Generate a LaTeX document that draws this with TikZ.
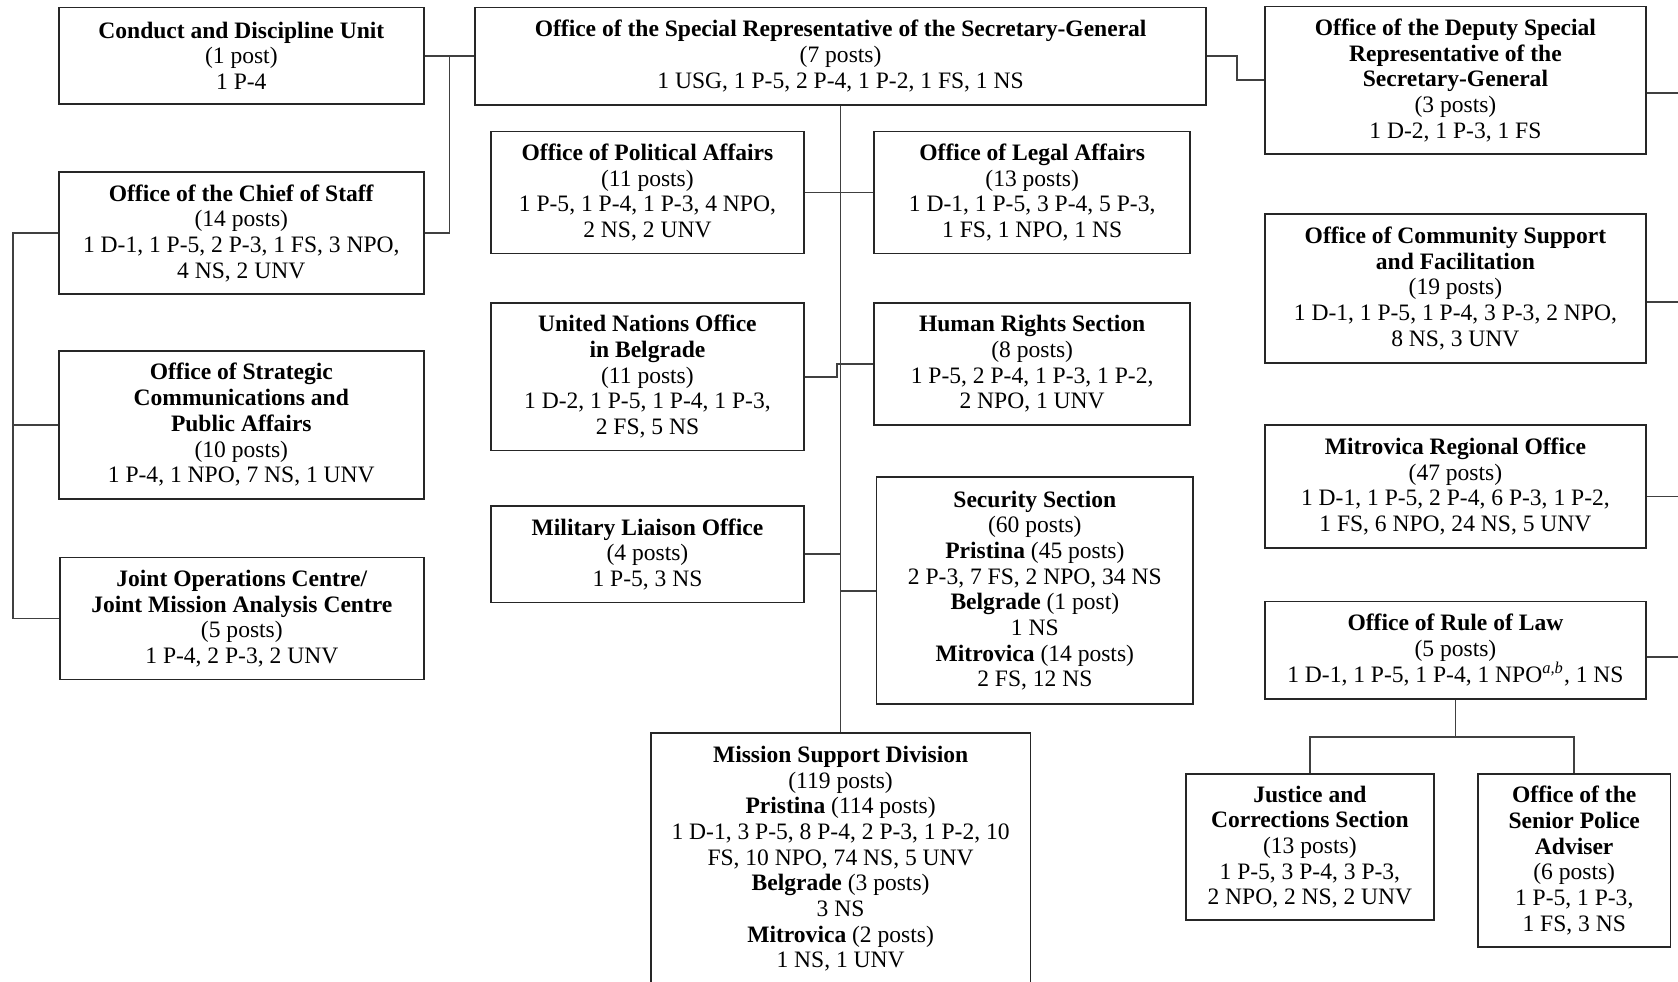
\documentclass[tikz,border=0pt]{standalone}
\usepackage{fontspec}
\setmainfont{Liberation Serif}
\begin{document}
\begin{tikzpicture}[x=0.5pt,y=-0.5pt,
  box/.style={draw=black!85, line width=0.8pt, fill=white, align=center, inner sep=0pt, font=\fontsize{11}{12}\selectfont},
  sz/.style 2 args={minimum width=#1*0.5pt, minimum height=#2*0.5pt},
  conn/.style={draw=black!75, line width=0.8pt}]
\useasboundingbox (0,0) rectangle (1568,917);
\clip (0,0) rectangle (1568,917);
\fill[white] (0,0) rectangle (1568,917);

% left column
\node[box, sz={341}{90}] (conduct) at (225.5,52) {\textbf{Conduct and Discipline Unit}\\(1 post)\\1 P-4};
\node[box, sz={341}{114}] (chief) at (225.5,218) {\textbf{Office of the Chief of Staff}\\(14 posts)\\1 D-1, 1 P-5, 2 P-3, 1 FS, 3 NPO,\\4 NS, 2 UNV};
\node[box, sz={341}{138}] (strat) at (225.5,397) {\textbf{Office of Strategic}\\\textbf{Communications and}\\\textbf{Public Affairs}\\(10 posts)\\1 P-4, 1 NPO, 7 NS, 1 UNV};
\node[box, sz={340}{114}] (joint) at (226,578) {\textbf{Joint Operations Centre/}\\\textbf{Joint Mission Analysis Centre}\\(5 posts)\\1 P-4, 2 P-3, 2 UNV};

% centre
\node[box, sz={683}{91}] (srsg) at (785.5,52.5) {\textbf{Office of the Special Representative of the Secretary-General}\\(7 posts)\\1 USG, 1 P-5, 2 P-4, 1 P-2, 1 FS, 1 NS};
\node[box, sz={292}{114}] (pol) at (605,180) {\textbf{Office of Political Affairs}\\(11 posts)\\1 P-5, 1 P-4, 1 P-3, 4 NPO,\\2 NS, 2 UNV};
\node[box, sz={295}{114}] (legal) at (964.5,180) {\textbf{Office of Legal Affairs}\\(13 posts)\\1 D-1, 1 P-5, 3 P-4, 5 P-3,\\1 FS, 1 NPO, 1 NS};
\node[box, sz={292}{138}] (unb) at (605,352) {\textbf{United Nations Office}\\\textbf{in Belgrade}\\(11 posts)\\1 D-2, 1 P-5, 1 P-4, 1 P-3,\\2 FS, 5 NS};
\node[box, sz={295}{114}] (hr) at (964.5,340) {\textbf{Human Rights Section}\\(8 posts)\\1 P-5, 2 P-4, 1 P-3, 1 P-2,\\2 NPO, 1 UNV};
\node[box, sz={292}{90}] (mil) at (605,518) {\textbf{Military Liaison Office}\\(4 posts)\\1 P-5, 3 NS};
\node[box, sz={296}{212}] (sec) at (967,552) {\textbf{Security Section}\\(60 posts)\\\textbf{Pristina} (45 posts)\\2 P-3, 7 FS, 2 NPO, 34 NS\\\textbf{Belgrade} (1 post)\\1 NS\\\textbf{Mitrovica} (14 posts)\\2 FS, 12 NS};
\node[box, sz={355}{235}] (msd) at (785.5,802.5) {\textbf{Mission Support Division}\\(119 posts)\\\textbf{Pristina} (114 posts)\\1 D-1, 3 P-5, 8 P-4, 2 P-3, 1 P-2, 10\\FS, 10 NPO, 74 NS, 5 UNV\\\textbf{Belgrade} (3 posts)\\3 NS\\\textbf{Mitrovica} (2 posts)\\1 NS, 1 UNV};

% right column
\node[box, sz={356}{138}] (deputy) at (1360,75) {\textbf{Office of the Deputy Special}\\\textbf{Representative of the}\\\textbf{Secretary-General}\\(3 posts)\\1 D-2, 1 P-3, 1 FS};
\node[box, sz={356}{139}] (comm) at (1360,269.5) {\textbf{Office of Community Support}\\\textbf{and Facilitation}\\(19 posts)\\1 D-1, 1 P-5, 1 P-4, 3 P-3, 2 NPO,\\8 NS, 3 UNV};
\node[box, sz={356}{115}] (mitro) at (1360,454.5) {\textbf{Mitrovica Regional Office}\\(47 posts)\\1 D-1, 1 P-5, 2 P-4, 6 P-3, 1 P-2,\\1 FS, 6 NPO, 24 NS, 5 UNV};
\node[box, sz={356}{91}] (rol) at (1360,607.5) {\textbf{Office of Rule of Law}\\(5 posts)\\1 D-1, 1 P-5, 1 P-4, 1 NPO\textsuperscript{\textit{a,b}}, 1 NS};
\node[box, sz={232}{137}] (just) at (1224,791.5) {\textbf{Justice and}\\\textbf{Corrections Section}\\(13 posts)\\1 P-5, 3 P-4, 3 P-3,\\2 NPO, 2 NS, 2 UNV};
\node[box, sz={180}{162}] (spa) at (1471,804) {\textbf{Office of the}\\\textbf{Senior Police}\\\textbf{Adviser}\\(6 posts)\\1 P-5, 1 P-3,\\1 FS, 3 NS};

% coordinates
\coordinate (cbus) at (420,52);
\coordinate (lbus) at (12,218);
\coordinate (jog) at (782,352);
\coordinate (redge1) at (1570,87);
\coordinate (redge2) at (1570,282);
\coordinate (redge3) at (1570,464);
\coordinate (redge4) at (1570,614);

% connectors
\draw[conn] (conduct.east) -- (srsg.west |- conduct.east);
\draw[conn] (chief.east) -| (cbus);
\draw[conn] (chief.west) -- (lbus) |- (joint.west);
\draw[conn] (strat.west) -- (strat.west -| lbus);
\draw[conn] (srsg.east) -- ++(28,0) |- (deputy.west);
\draw[conn] (srsg.south) -- (msd.north);
\draw[conn] (pol.east) -- (legal.west);
\draw[conn] (unb.east) -- (jog) |- (hr.west);
\draw[conn] (mil.east) -- (mil.east -| srsg.south);
\draw[conn] (sec.west) -- (sec.west -| srsg.south);
\draw[conn] (deputy.east |- redge1) -- (redge1);
\draw[conn] (comm.east |- redge2) -- (redge2);
\draw[conn] (mitro.east |- redge3) -- (redge3);
\draw[conn] (rol.east |- redge4) -- (redge4);
\draw[conn] (rol.south) -- ++(0,35) coordinate (rj);
\draw[conn] (just.north) |- (rj) -| (spa.north);
\end{tikzpicture}
\end{document}
